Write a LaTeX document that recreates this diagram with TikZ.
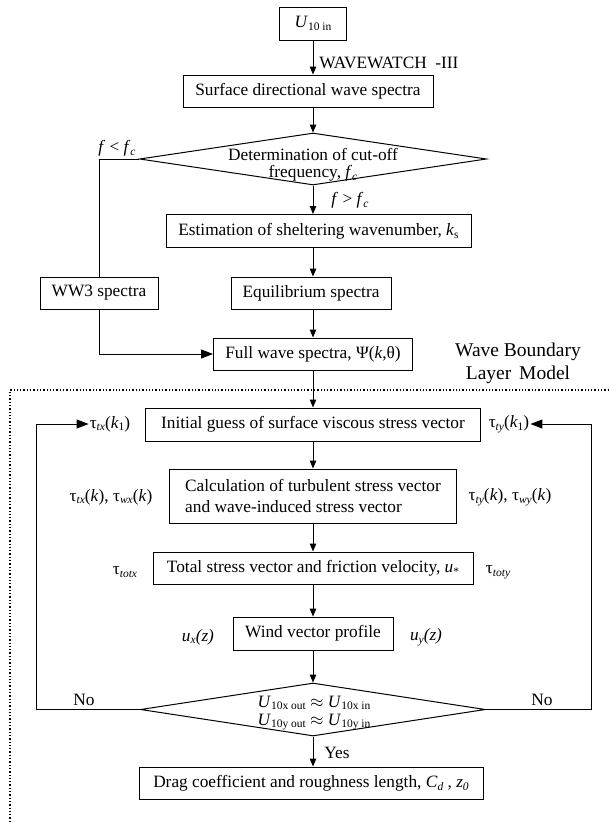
\documentclass[tikz,border=0pt]{standalone}
\usepackage{fontspec}
\setmainfont{Liberation Serif}
\usetikzlibrary{shapes.geometric,arrows.meta}
\newcommand\lowr[1]{\raisebox{-0.35ex}{\fontsize{11.5}{12}\selectfont #1}}
\begin{document}
\begin{tikzpicture}[x=1pt,y=-1pt,
  every node/.style={font=\fontsize{17.3}{19}\selectfont, inner sep=1pt},
  box/.style={draw, line width=1, minimum height=32, inner sep=2},
  dia/.style={draw, diamond, line width=1, inner sep=0},
  arr/.style={line width=1, -{Triangle[length=8,width=6.5]}},
  bigarr/.style={line width=1, -{Triangle[length=12,width=9]}},
  ln/.style={line width=1},
  dots/.style={dotted, line width=1.3}
]
\useasboundingbox (0,0) rectangle (610,822);

% boxes
\node[box, minimum width=67, minimum height=33] (u10) at (313,23.5) {\textit{U}\lowr{10 in}};
\node[box, minimum width=250] (surf) at (308,91) {Surface directional wave spectra};
\node[dia, minimum width=347, minimum height=52] (d1) at (313,159) {};
\node[align=center, font=\fontsize{17.3}{16.5}\selectfont] (d1t) at (313,165) {Determination of cut-off\\frequency, \textit{f}\lowr{\textit{c}}};
\node[box, minimum width=305, minimum height=33] (est) at (318.5,231) {Estimation of sheltering wavenumber, \textit{k}\lowr{s}};
\node[box, minimum width=118] (ww3) at (99,293) {WW3 spectra};
\node[box, minimum width=160] (eq) at (311,293) {Equilibrium spectra};
\node[box, minimum width=199] (fw) at (313,354) {Full wave spectra, Ψ(\textit{k},θ)};
\node[align=center, font=\fontsize{19.5}{23}\selectfont] (wbl) at (518,363) {Wave Boundary\\Layer\hspace{0.4em}Model};
\node[box, minimum width=335, minimum height=33] (init) at (313,424.5) {Initial guess of surface viscous stress vector};
\node[box, minimum width=287, minimum height=54, align=left, font=\fontsize{17.3}{21}\selectfont] (calc) at (313,496) {Calculation of turbulent stress vector\\and wave-induced stress vector};
\node[box, minimum width=320] (tot) at (313,568) {Total stress vector and friction velocity, \textit{u}\lowr{*}};
\node[box, minimum width=160, minimum height=33] (wind) at (313,633.5) {Wind vector profile};
\node[dia, minimum width=345, minimum height=53] (d2) at (313,709.5) {};
\node[align=center, font=\fontsize{17.3}{18}\selectfont] (d2t) at (314,713) {\textit{U}\lowr{10x out} $\approx$ \textit{U}\lowr{10x in}\\\textit{U}\lowr{10y out} $\approx$ \textit{U}\lowr{10y in}};
\node[box, minimum width=344] (drag) at (311,783) {Drag coefficient and roughness length, \textit{C}\lowr{\textit{d}} , \textit{z}\lowr{\textit{0}}};

% labels
\node (ww) at (389,63) {WAVEWATCH\hspace{0.5em}-III};
\node (flt) at (117,148) {\textit{f} < \textit{f}\lowr{\textit{c}}};
\node (fgt) at (350,200) {\textit{f} > \textit{f}\lowr{\textit{c}}};
\node (tx1) at (110,424) {τ\lowr{\textit{tx}}(\textit{k}\lowr{1})};
\node (ty1) at (509,424) {τ\lowr{\textit{ty}}(\textit{k}\lowr{1})};
\node (txk) at (111,497) {τ\lowr{\textit{tx}}(\textit{k}), τ\lowr{\textit{wx}}(\textit{k})};
\node (tyk) at (510,497) {τ\lowr{\textit{ty}}(\textit{k}), τ\lowr{\textit{wy}}(\textit{k})};
\node (ttx) at (125,572) {τ\lowr{\textit{totx}}};
\node (tty) at (498,572) {τ\lowr{\textit{toty}}};
\node (ux) at (198,637) {\textit{u\lowr{x}(z)}};
\node (uy) at (426,637) {\textit{u\lowr{y}(z)}};
\node (nol) at (84,700) {No};
\node (nor) at (542,700) {No};
\node (yes) at (337,753) {Yes};

% connectors
\coordinate (lx) at (36,0);
\coordinate (rx) at (591,0);
\draw[arr] (u10.south) -- (u10.south |- surf.north);
\draw[arr] (d1.north |- surf.south) -- (d1.north);
\draw[arr] (d1.south) -- (d1.south |- est.north);
\draw[arr] (d1.south |- est.south) -- (d1.south |- eq.north);
\draw[arr] (d1.south |- eq.south) -- (fw.north);
\draw[arr] (fw.south) -- (init.north);
\draw[arr] (init.south) -- (calc.north);
\draw[arr] (calc.south) -- (tot.north);
\draw[arr] (tot.south) -- (wind.north);
\draw[arr] (wind.south) -- (d2.north);
\draw[arr] (d2.south) -- (d2.south |- drag.north);
\draw[ln] (d1.west) -| (ww3.north);
\draw[bigarr] (ww3.south) |- (fw.west);
\draw[bigarr] (d2.west) -- (d2.west -| lx) |- (tx1.west);
\draw[bigarr] (d2.east) -- (d2.east -| rx) |- (ty1.east);

% dotted frame
\draw[dots] (10,822) -- (10,390) -- (610,390);
\end{tikzpicture}
\end{document}
